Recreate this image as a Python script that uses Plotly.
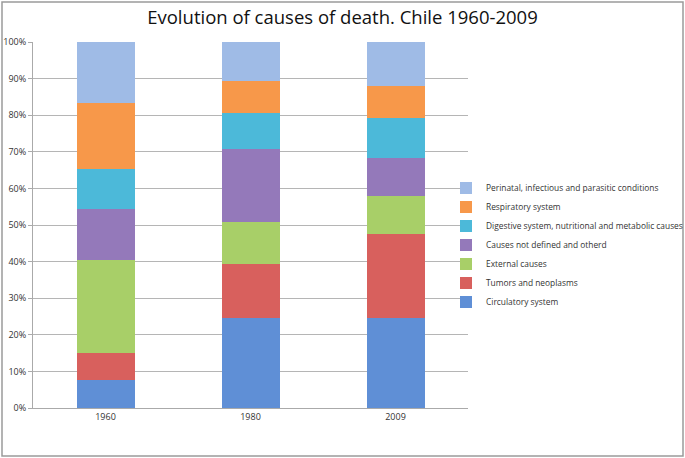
import plotly.graph_objects as go

years = ["1960", "1980", "2009"]
series_names = [
    "Circulatory system",
    "Tumors and neoplasms",
    "External causes",
    "Causes not defined and otherd",
    "Digestive system, nutritional and metabolic causes",
    "Respiratory system",
    "Perinatal, infectious and parasitic conditions",
]
circulatory = [7.7, 24.7, 24.5]
tumors = [7.3, 14.7, 23.0]
external = [25.5, 11.3, 10.5]
undefined = [13.9, 20.0, 10.4]
digestive = [10.9, 9.8, 10.8]
respiratory = [18.1, 8.9, 8.8]
perinatal = [16.6, 10.6, 12.0]
series_values = [circulatory, tumors, external, undefined, digestive, respiratory, perinatal]
colors = ["#5f8fd6", "#d8605d", "#a8cf68", "#9479ba", "#4cb9d9", "#f7984a", "#9fbbe6"]
y_ticks = [0, 10, 20, 30, 40, 50, 60, 70, 80, 90, 100]
y_tick_labels = [f"{t}%" for t in y_ticks]

fig = go.Figure()
for name, vals, col in zip(series_names, series_values, colors):
    fig.add_trace(go.Bar(
        x=years, y=vals, name=name,
        marker=dict(color=col, line=dict(width=0)),
        width=0.4,
    ))

W, H = 685, 458
ml, mr, mt, mb = 33, 217, 42, 50
pw, ph = W - ml - mr, H - mt - mb

fig.update_layout(
    barmode="stack",
    width=W, height=H,
    margin=dict(l=ml, r=mr, t=mt, b=mb, autoexpand=False),
    paper_bgcolor="white",
    plot_bgcolor="white",
    font=dict(family="Open Sans, Lato, sans-serif", size=9, color="#333333"),
    title=dict(
        text="Evolution of causes of death. Chile 1960-2009",
        x=0.5, xanchor="center", xref="container",
        y=1 - 18 / H, yanchor="middle", yref="container",
        font=dict(size=18.5, color="#111111", family="Open Sans, Lato, sans-serif"),
    ),
    showlegend=True,
    legend=dict(
        traceorder="reversed",
        xref="container", yref="container",
        x=446 / W, xanchor="left",
        y=1 - 245 / H, yanchor="middle",
        font=dict(size=8.4, color="#333333"),
        itemwidth=30,
        tracegroupgap=0,
        bgcolor="rgba(0,0,0,0)",
    ),
    xaxis=dict(
        showgrid=False,
        showline=True, linecolor="#aaaaaa", linewidth=1,
        ticks="", tickfont=dict(size=9, color="#333333"),
    ),
    yaxis=dict(
        range=[0, 100],
        tickvals=y_ticks, ticktext=y_tick_labels,
        showgrid=True, gridcolor="#b5b5b5", gridwidth=1,
        showline=True, linecolor="#aaaaaa", linewidth=1,
        ticks="outside", ticklen=4, tickcolor="#aaaaaa",
        tickfont=dict(size=9, color="#333333"),
        zeroline=False,
    ),
    shapes=[dict(
        type="rect", xref="paper", yref="paper",
        x0=(2 - ml) / pw, x1=(W - 2 - ml) / pw,
        y0=(H - mb - (H - 2)) / ph, y1=(H - mb - 2) / ph,
        line=dict(color="#9a9a9a", width=1.5),
        fillcolor="rgba(0,0,0,0)", layer="below",
    )],
)

fig.write_html(
    "out.html",
    config={"displayModeBar": False},
    post_script="document.body.style.margin='0';document.body.style.padding='0';",
)
